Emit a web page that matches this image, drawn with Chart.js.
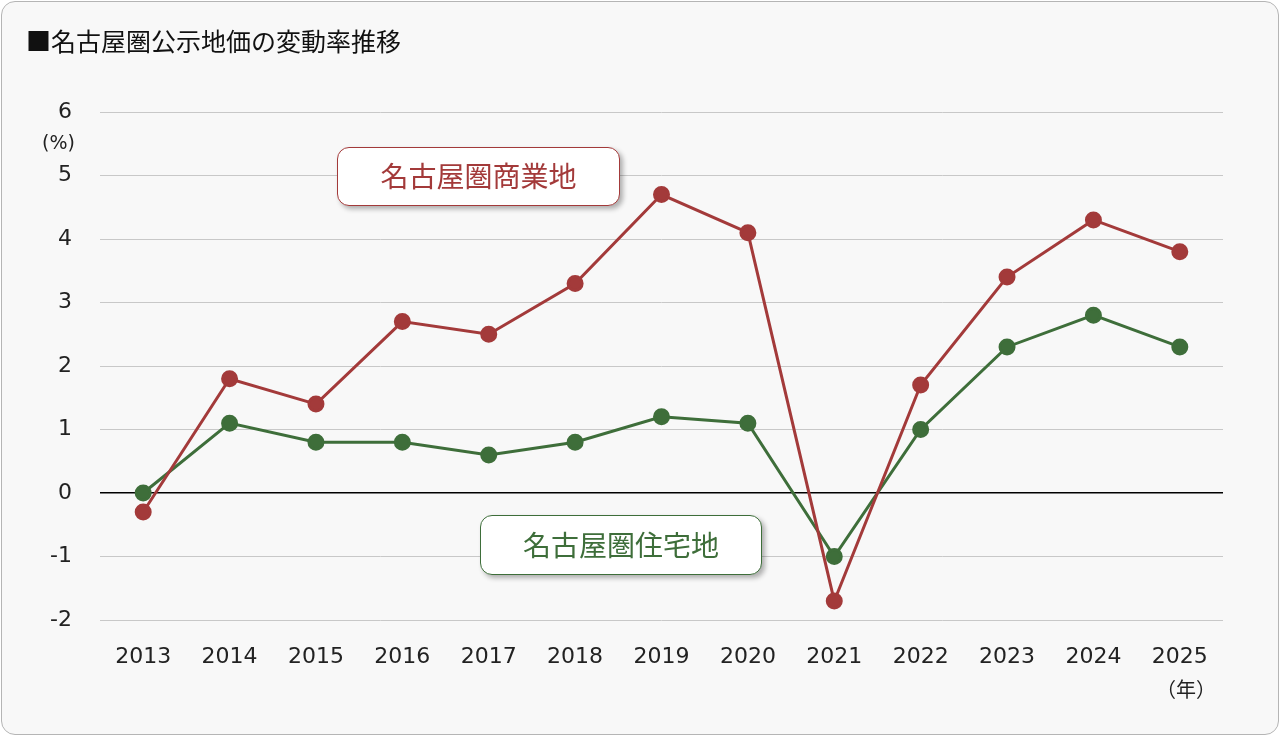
<!DOCTYPE html>
<html><head><meta charset="utf-8">
<script src="https://cdn.jsdelivr.net/npm/chart.js@4"></script>
<style>
body{margin:0;background:#fff;font-family:"Noto Sans CJK JP","Liberation Sans",sans-serif;}
#card{position:absolute;left:1px;top:1px;width:1276px;height:732px;border:1px solid #b5b5b5;border-radius:14px;background:#f8f8f8;}
#c{position:absolute;left:0;top:0;}
.t{position:absolute;white-space:nowrap;}
.box{position:absolute;background:#fff;border-radius:12px;font-size:28px;text-align:center;box-shadow:3px 3px 5px rgba(0,0,0,0.3);}
</style></head><body>
<div id="card"></div>
<canvas id="c" width="1280" height="736"></canvas>
<div class="t" style="left:26px;top:22px;font-size:25px;color:#111">■名古屋圏公示地価の変動率推移</div>
<div class="t" style="left:42px;top:131px;font-size:19px;color:#222;font-family:'DejaVu Sans'">(%)</div>
<div class="t" style="left:1156px;top:674px;font-size:20px;color:#222">（年）</div>
<div class="box" style="left:337px;top:147px;width:281px;height:57px;line-height:55px;border:1.5px solid #a33a3a;color:#a33a3a">名古屋圏商業地</div>
<div class="box" style="left:480px;top:515px;width:280px;height:58px;line-height:56px;border:1.5px solid #3e6e3a;color:#3e6e3a">名古屋圏住宅地</div>
<script>
const years = ['2013','2014','2015','2016','2017','2018','2019','2020','2021','2022','2023','2024','2025'];
const commercial = [-0.3, 1.8, 1.4, 2.7, 2.5, 3.3, 4.7, 4.1, -1.7, 1.7, 3.4, 4.3, 3.8];
const residential = [0.0, 1.1, 0.8, 0.8, 0.6, 0.8, 1.2, 1.1, -1.0, 1.0, 2.3, 2.8, 2.3];
const yTicks = [-2, -1, 0, 1, 2, 3, 4, 5, 6];

const red = '#a33a3a', green = '#3e6e3a';
new Chart(document.getElementById('c'), {
    type: 'line',
    data: {
        labels: years,
        datasets: [{
            label: '名古屋圏商業地', data: commercial, borderColor: red, backgroundColor: red,
            borderWidth: 3, pointRadius: 7, pointHoverRadius: 7, tension: 0
        }, {
            label: '名古屋圏住宅地', data: residential, borderColor: green, backgroundColor: green,
            borderWidth: 3, pointRadius: 7, pointHoverRadius: 7, tension: 0
        }]
    },
    options: {
        responsive: false, animation: false,
        layout: { padding: { top: 112, right: 57, bottom: 56, left: 0 } },
        plugins: { legend: { display: false }, tooltip: { enabled: false } },
        scales: {
            x: {
                offset: true,
                grid: { display: false },
                border: { display: false },
                ticks: { color: '#222', font: { size: 22, family: 'DejaVu Sans' }, padding: 16 },
                afterFit: s => { s.height = 60; }
            },
            y: {
                min: -2, max: 6,
                afterBuildTicks: s => { s.ticks = yTicks.map(v => ({ value: v })); },
                afterFit: s => { s.width = 100; },
                border: { display: false },
                grid: {
                    drawTicks: false,
                    color: c => c.tick.value === 0 ? '#000' : '#c8c8c8',
                    lineWidth: c => c.tick.value === 0 ? 1.5 : 1
                },
                ticks: { color: '#222', font: { size: 22, family: 'DejaVu Sans' }, padding: 28 }
            }
        }
    }
});
</script>
</body></html>
